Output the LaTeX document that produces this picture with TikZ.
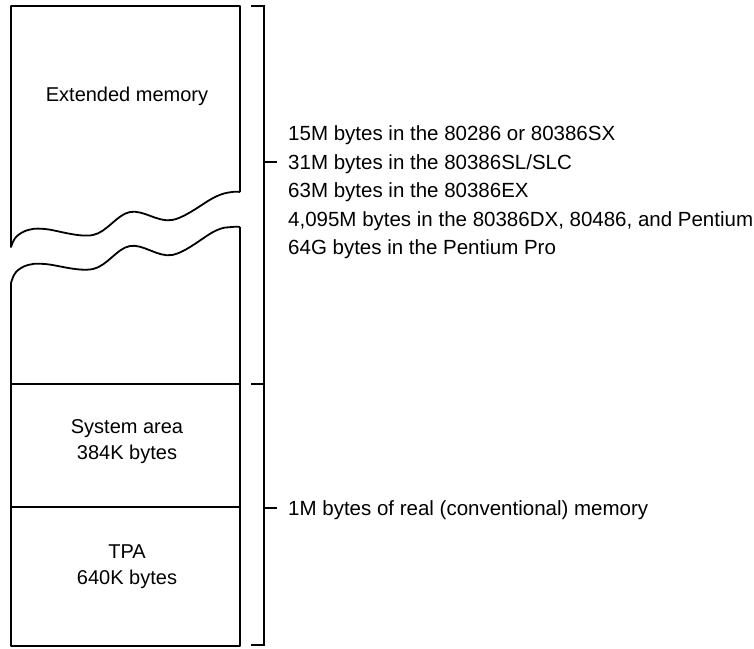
\documentclass[tikz,border=0pt]{standalone}
\usepackage{fontspec}
\setmainfont{Liberation Sans}
\begin{document}
\begin{tikzpicture}[x=1pt,y=-1pt,
  boxline/.style={line width=1.8pt,line join=round},
  braceline/.style={line width=1.1pt},
  lbl/.style={inner sep=0pt,font=\fontsize{20}{24}\selectfont},
  note/.style={inner sep=0pt,anchor=base west,font=\fontsize{20.5}{24}\selectfont}]
\useasboundingbox (0,0) rectangle (754,648);

% upper part of the memory column, broken off by a wavy edge
\draw[boxline] (240,192) -- (240,6) -- (11,6) -- (11,247)
  -- plot[smooth,tension=0.6] coordinates {(11,247) (16,237) (28,230) (45,229)
     (93,235) (130,212) (172,220) (215,197) (232,192) (240,192)};

% lower part of the column with the same wavy top edge
\draw[boxline] (240,227) -- (240,646) -- (11,646) -- (11,283)
  -- plot[smooth,tension=0.6] coordinates {(11,283) (16,272) (28,265) (45,264)
     (93,269) (130,246) (172,255) (215,231) (232,227) (240,227)};

% region boundaries
\coordinate (sysL) at (11,384);  \coordinate (sysR) at (240,384);
\coordinate (tpaL) at (11,507);  \coordinate (tpaR) at (240,507);
\draw[boxline] (sysL) -- (sysR);
\draw[boxline] (tpaL) -- (tpaR);

% brackets on the right
\coordinate (b0) at (264,6);
\coordinate (b1) at (264,384);
\coordinate (b2) at (264,645);
\coordinate (t1) at (264,162);
\coordinate (t2) at (264,508);
\draw[braceline] (251,6) -- (b0) -- (b2) -- (251,645);
\draw[braceline] (251,384) -- (b1);
\draw[braceline] (t1) -- ++(13,0);
\draw[braceline] (t2) -- ++(13,0);

% labels inside the column
\node[lbl,anchor=base] (ext) at (127,101) {Extended memory};
\node[lbl,anchor=base] (sys1) at (127,433) {System area};
\node[lbl,anchor=base] (sys2) at (127,459) {384K bytes};
\node[lbl,anchor=base] (tpa1) at (127,558) {TPA};
\node[lbl,anchor=base] (tpa2) at (127,584) {640K bytes};

% notes beside the brackets
\node[note] (n1) at (288,140.5) {15M bytes in the 80286 or 80386SX};
\node[note] (n2) at (288,169)   {31M bytes in the 80386SL/SLC};
\node[note] (n3) at (288,197.5) {63M bytes in the 80386EX};
\node[note] (n4) at (288,226)   {4,095M bytes in the 80386DX, 80486, and Pentium};
\node[note] (n5) at (288,254.5) {64G bytes in the Pentium Pro};
\node[note] (n6) at (288,515)   {1M bytes of real (conventional) memory};
\end{tikzpicture}
\end{document}
